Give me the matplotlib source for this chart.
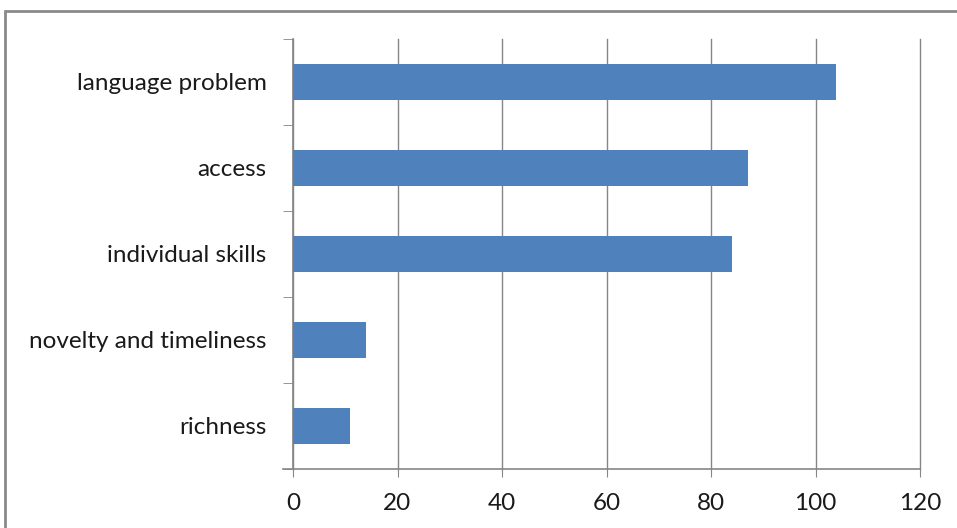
import matplotlib
matplotlib.use("Agg")
import matplotlib.pyplot as plt
from matplotlib.patches import Rectangle

categories = ["language problem", "access", "individual skills", "novelty and timeliness", "richness"]
values = [104, 87, 84, 14, 11]
xticks = [0, 20, 40, 60, 80, 100, 120]

W, H = 957, 528
fig = plt.figure(figsize=(W/100, H/100), dpi=100)
plt.rcParams['font.family'] = ['Lato', 'DejaVu Sans']

ax = fig.add_axes([293/W, 1-469/H, (920-293)/W, (469-39)/H])
n = len(categories)
pos = list(range(n))[::-1]
ax.barh(pos, values, height=0.41, color="#4F81BD", zorder=3)
ax.set_xlim(0, 120)
ax.set_ylim(-0.5, n-0.5)
ax.set_xticks(xticks)
ax.set_xticklabels([str(t) for t in xticks], fontsize=17.5, color="#1a1a1a")
ax.set_yticks(pos)
ax.set_yticklabels(categories, fontsize=17.5, color="#1a1a1a")
ax.tick_params(axis='y', length=0, pad=19)
ax.tick_params(axis='x', length=6, color="#868686", pad=11, direction='out')
ax.set_yticks([i - 0.5 for i in range(n+1)], minor=True)
ax.tick_params(axis='y', which='minor', length=7, color="#868686", direction='out')
ax.grid(axis='x', color="#868686", linewidth=1, zorder=0)
for line in ax.get_xgridlines():
    line.set_clip_on(False)
for s in ['top', 'right']:
    ax.spines[s].set_visible(False)
ax.spines['left'].set_color("#868686")
ax.spines['bottom'].set_color("#868686")
ax.spines['left'].set_linewidth(1.2)
ax.spines['bottom'].set_linewidth(1.2)
ax.spines['bottom'].set_bounds(-2, 120)

fig.patches.append(Rectangle((4.5/W, -0.1), 1.2, (1-10.5/H)+0.1, transform=fig.transFigure,
                             fill=False, edgecolor="#8a8a8a", linewidth=2))
fig.savefig("out.png", dpi=100)
